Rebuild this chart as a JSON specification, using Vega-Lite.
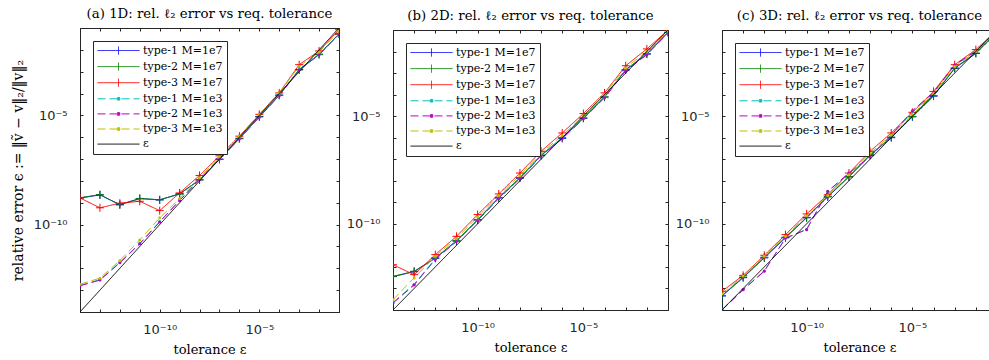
{
  "$schema": "https://vega.github.io/schema/vega-lite/v6.json",
  "background": "white",
  "padding": {"left": 10, "top": 6, "right": 0, "bottom": 0},
  "config": {
    "view": {"stroke": "#262626", "strokeWidth": 1},
    "axis": {"grid": false, "labelFont": "DejaVu Sans", "labelFontSize": 13, "labelColor": "#262626", "domainColor": "#262626", "tickColor": "#262626", "tickSize": -3, "titleFont": "DejaVu Serif", "titleFontSize": 13, "titleFontWeight": "normal", "titleColor": "#000000"},
    "title": {"font": "DejaVu Serif", "fontSize": 13.3, "fontWeight": "normal", "anchor": "middle", "offset": 7, "color": "#000000"},
    "legend": {"labelFont": "DejaVu Serif", "labelFontSize": 11, "labelColor": "#000000", "padding": 4, "rowPadding": 3.1, "strokeColor": "#262626", "fillColor": "white", "cornerRadius": 0, "symbolSize": 100, "symbolOffset": 16, "labelOffset": 19, "symbolStrokeWidth": 1, "orient": "top-left", "offset": 13, "title": null}
  },
  "datasets": {
    "runs": [
      {"p":"a","s":"type-1 M=1e7","t":1e-14,"e":1.66e-9},{"p":"a","s":"type-1 M=1e7","t":1e-13,"e":2.29e-9},{"p":"a","s":"type-1 M=1e7","t":1e-12,"e":8.32e-10},{"p":"a","s":"type-1 M=1e7","t":1e-11,"e":1.55e-9},{"p":"a","s":"type-1 M=1e7","t":1e-10,"e":1.35e-9},{"p":"a","s":"type-1 M=1e7","t":1e-9,"e":2.57e-9},{"p":"a","s":"type-1 M=1e7","t":1e-8,"e":1.12e-8},{"p":"a","s":"type-1 M=1e7","t":1e-7,"e":1.0e-7},{"p":"a","s":"type-1 M=1e7","t":1e-6,"e":8.91e-7},{"p":"a","s":"type-1 M=1e7","t":1e-5,"e":8.91e-6},{"p":"a","s":"type-1 M=1e7","t":1e-4,"e":8.51e-5},{"p":"a","s":"type-1 M=1e7","t":1e-3,"e":1.26e-3},{"p":"a","s":"type-1 M=1e7","t":1e-2,"e":6.31e-3},{"p":"a","s":"type-1 M=1e7","t":1e-1,"e":5.37e-2},
      {"p":"a","s":"type-2 M=1e7","t":1e-14,"e":1.70e-9},{"p":"a","s":"type-2 M=1e7","t":1e-13,"e":2.34e-9},{"p":"a","s":"type-2 M=1e7","t":1e-12,"e":7.94e-10},{"p":"a","s":"type-2 M=1e7","t":1e-11,"e":1.58e-9},{"p":"a","s":"type-2 M=1e7","t":1e-10,"e":1.38e-9},{"p":"a","s":"type-2 M=1e7","t":1e-9,"e":2.51e-9},{"p":"a","s":"type-2 M=1e7","t":1e-8,"e":1.12e-8},{"p":"a","s":"type-2 M=1e7","t":1e-7,"e":9.55e-8},{"p":"a","s":"type-2 M=1e7","t":1e-6,"e":8.51e-7},{"p":"a","s":"type-2 M=1e7","t":1e-5,"e":8.51e-6},{"p":"a","s":"type-2 M=1e7","t":1e-4,"e":8.32e-5},{"p":"a","s":"type-2 M=1e7","t":1e-3,"e":1.20e-3},{"p":"a","s":"type-2 M=1e7","t":1e-2,"e":6.03e-3},{"p":"a","s":"type-2 M=1e7","t":1e-1,"e":5.25e-2},
      {"p":"a","s":"type-3 M=1e7","t":1e-14,"e":1.66e-9},{"p":"a","s":"type-3 M=1e7","t":1e-13,"e":5.89e-10},{"p":"a","s":"type-3 M=1e7","t":1e-12,"e":9.55e-10},{"p":"a","s":"type-3 M=1e7","t":1e-11,"e":1.17e-9},{"p":"a","s":"type-3 M=1e7","t":1e-10,"e":4.37e-10},{"p":"a","s":"type-3 M=1e7","t":1e-9,"e":2.82e-9},{"p":"a","s":"type-3 M=1e7","t":1e-8,"e":1.78e-8},{"p":"a","s":"type-3 M=1e7","t":1e-7,"e":1.41e-7},{"p":"a","s":"type-3 M=1e7","t":1e-6,"e":1.12e-6},{"p":"a","s":"type-3 M=1e7","t":1e-5,"e":1.12e-5},{"p":"a","s":"type-3 M=1e7","t":1e-4,"e":1.07e-4},{"p":"a","s":"type-3 M=1e7","t":1e-3,"e":2.09e-3},{"p":"a","s":"type-3 M=1e7","t":1e-2,"e":8.91e-3},{"p":"a","s":"type-3 M=1e7","t":1e-1,"e":8.32e-2},
      {"p":"a","s":"type-1 M=1e3","t":1e-14,"e":1.66e-13},{"p":"a","s":"type-1 M=1e3","t":1e-13,"e":3.02e-13},{"p":"a","s":"type-1 M=1e3","t":1e-12,"e":1.86e-12},{"p":"a","s":"type-1 M=1e3","t":1e-11,"e":1.38e-11},{"p":"a","s":"type-1 M=1e3","t":1e-10,"e":1.38e-10},{"p":"a","s":"type-1 M=1e3","t":1e-9,"e":1.32e-9},{"p":"a","s":"type-1 M=1e3","t":1e-8,"e":1.20e-8},{"p":"a","s":"type-1 M=1e3","t":1e-7,"e":1.07e-7},{"p":"a","s":"type-1 M=1e3","t":1e-6,"e":8.71e-7},{"p":"a","s":"type-1 M=1e3","t":1e-5,"e":8.71e-6},{"p":"a","s":"type-1 M=1e3","t":1e-4,"e":8.32e-5},{"p":"a","s":"type-1 M=1e3","t":1e-3,"e":1.26e-3},{"p":"a","s":"type-1 M=1e3","t":1e-2,"e":6.31e-3},{"p":"a","s":"type-1 M=1e3","t":1e-1,"e":5.25e-2},
      {"p":"a","s":"type-2 M=1e3","t":1e-14,"e":1.58e-13},{"p":"a","s":"type-2 M=1e3","t":1e-13,"e":2.88e-13},{"p":"a","s":"type-2 M=1e3","t":1e-12,"e":1.78e-12},{"p":"a","s":"type-2 M=1e3","t":1e-11,"e":1.32e-11},{"p":"a","s":"type-2 M=1e3","t":1e-10,"e":1.32e-10},{"p":"a","s":"type-2 M=1e3","t":1e-9,"e":1.26e-9},{"p":"a","s":"type-2 M=1e3","t":1e-8,"e":1.15e-8},{"p":"a","s":"type-2 M=1e3","t":1e-7,"e":1.02e-7},{"p":"a","s":"type-2 M=1e3","t":1e-6,"e":8.32e-7},{"p":"a","s":"type-2 M=1e3","t":1e-5,"e":8.32e-6},{"p":"a","s":"type-2 M=1e3","t":1e-4,"e":7.94e-5},{"p":"a","s":"type-2 M=1e3","t":1e-3,"e":1.20e-3},{"p":"a","s":"type-2 M=1e3","t":1e-2,"e":6.03e-3},{"p":"a","s":"type-2 M=1e3","t":1e-1,"e":5.01e-2},
      {"p":"a","s":"type-3 M=1e3","t":1e-14,"e":1.86e-13},{"p":"a","s":"type-3 M=1e3","t":1e-13,"e":3.55e-13},{"p":"a","s":"type-3 M=1e3","t":1e-12,"e":2.24e-12},{"p":"a","s":"type-3 M=1e3","t":1e-11,"e":2.00e-11},{"p":"a","s":"type-3 M=1e3","t":1e-10,"e":2.04e-10},{"p":"a","s":"type-3 M=1e3","t":1e-9,"e":1.58e-9},{"p":"a","s":"type-3 M=1e3","t":1e-8,"e":1.41e-8},{"p":"a","s":"type-3 M=1e3","t":1e-7,"e":1.26e-7},{"p":"a","s":"type-3 M=1e3","t":1e-6,"e":1.10e-6},{"p":"a","s":"type-3 M=1e3","t":1e-5,"e":1.10e-5},{"p":"a","s":"type-3 M=1e3","t":1e-4,"e":1.07e-4},{"p":"a","s":"type-3 M=1e3","t":1e-3,"e":1.78e-3},{"p":"a","s":"type-3 M=1e3","t":1e-2,"e":7.94e-3},{"p":"a","s":"type-3 M=1e3","t":1e-1,"e":7.08e-2},
      {"p":"a","s":"ε","t":1e-14,"e":1e-14},{"p":"a","s":"ε","t":1e-1,"e":1e-1},

      {"p":"b","s":"type-1 M=1e7","t":1e-14,"e":3.55e-13},{"p":"b","s":"type-1 M=1e7","t":1e-13,"e":6.03e-13},{"p":"b","s":"type-1 M=1e7","t":1e-12,"e":2.51e-12},{"p":"b","s":"type-1 M=1e7","t":1e-11,"e":1.58e-11},{"p":"b","s":"type-1 M=1e7","t":1e-10,"e":1.51e-10},{"p":"b","s":"type-1 M=1e7","t":1e-9,"e":1.58e-9},{"p":"b","s":"type-1 M=1e7","t":1e-8,"e":1.32e-8},{"p":"b","s":"type-1 M=1e7","t":1e-7,"e":1.48e-7},{"p":"b","s":"type-1 M=1e7","t":1e-6,"e":9.33e-7},{"p":"b","s":"type-1 M=1e7","t":1e-5,"e":7.94e-6},{"p":"b","s":"type-1 M=1e7","t":1e-4,"e":7.59e-5},{"p":"b","s":"type-1 M=1e7","t":1e-3,"e":1.38e-3},{"p":"b","s":"type-1 M=1e7","t":1e-2,"e":7.59e-3},{"p":"b","s":"type-1 M=1e7","t":1e-1,"e":7.59e-2},
      {"p":"b","s":"type-2 M=1e7","t":1e-14,"e":3.63e-13},{"p":"b","s":"type-2 M=1e7","t":1e-13,"e":6.31e-13},{"p":"b","s":"type-2 M=1e7","t":1e-12,"e":2.63e-12},{"p":"b","s":"type-2 M=1e7","t":1e-11,"e":1.66e-11},{"p":"b","s":"type-2 M=1e7","t":1e-10,"e":1.58e-10},{"p":"b","s":"type-2 M=1e7","t":1e-9,"e":1.70e-9},{"p":"b","s":"type-2 M=1e7","t":1e-8,"e":1.41e-8},{"p":"b","s":"type-2 M=1e7","t":1e-7,"e":1.58e-7},{"p":"b","s":"type-2 M=1e7","t":1e-6,"e":1.0e-6},{"p":"b","s":"type-2 M=1e7","t":1e-5,"e":8.32e-6},{"p":"b","s":"type-2 M=1e7","t":1e-4,"e":7.94e-5},{"p":"b","s":"type-2 M=1e7","t":1e-3,"e":1.45e-3},{"p":"b","s":"type-2 M=1e7","t":1e-2,"e":7.94e-3},{"p":"b","s":"type-2 M=1e7","t":1e-1,"e":7.94e-2},
      {"p":"b","s":"type-3 M=1e7","t":1e-14,"e":1.26e-12},{"p":"b","s":"type-3 M=1e7","t":1e-13,"e":4.37e-13},{"p":"b","s":"type-3 M=1e7","t":1e-12,"e":3.72e-12},{"p":"b","s":"type-3 M=1e7","t":1e-11,"e":2.63e-11},{"p":"b","s":"type-3 M=1e7","t":1e-10,"e":2.69e-10},{"p":"b","s":"type-3 M=1e7","t":1e-9,"e":2.45e-9},{"p":"b","s":"type-3 M=1e7","t":1e-8,"e":2.29e-8},{"p":"b","s":"type-3 M=1e7","t":1e-7,"e":2.34e-7},{"p":"b","s":"type-3 M=1e7","t":1e-6,"e":1.66e-6},{"p":"b","s":"type-3 M=1e7","t":1e-5,"e":1.32e-5},{"p":"b","s":"type-3 M=1e7","t":1e-4,"e":1.20e-4},{"p":"b","s":"type-3 M=1e7","t":1e-3,"e":2.19e-3},{"p":"b","s":"type-3 M=1e7","t":1e-2,"e":1.32e-2},{"p":"b","s":"type-3 M=1e7","t":1e-1,"e":1.0e-1},
      {"p":"b","s":"type-1 M=1e3","t":1e-14,"e":2.24e-14},{"p":"b","s":"type-1 M=1e3","t":1e-13,"e":1.58e-13},{"p":"b","s":"type-1 M=1e3","t":1e-12,"e":2.40e-12},{"p":"b","s":"type-1 M=1e3","t":1e-11,"e":1.58e-11},{"p":"b","s":"type-1 M=1e3","t":1e-10,"e":1.51e-10},{"p":"b","s":"type-1 M=1e3","t":1e-9,"e":1.58e-9},{"p":"b","s":"type-1 M=1e3","t":1e-8,"e":1.35e-8},{"p":"b","s":"type-1 M=1e3","t":1e-7,"e":1.51e-7},{"p":"b","s":"type-1 M=1e3","t":1e-6,"e":9.55e-7},{"p":"b","s":"type-1 M=1e3","t":1e-5,"e":7.94e-6},{"p":"b","s":"type-1 M=1e3","t":1e-4,"e":7.59e-5},{"p":"b","s":"type-1 M=1e3","t":1e-3,"e":1.38e-3},{"p":"b","s":"type-1 M=1e3","t":1e-2,"e":7.59e-3},{"p":"b","s":"type-1 M=1e3","t":1e-1,"e":7.59e-2},
      {"p":"b","s":"type-2 M=1e3","t":1e-14,"e":2.09e-14},{"p":"b","s":"type-2 M=1e3","t":1e-13,"e":1.45e-13},{"p":"b","s":"type-2 M=1e3","t":1e-12,"e":2.24e-12},{"p":"b","s":"type-2 M=1e3","t":1e-11,"e":1.51e-11},{"p":"b","s":"type-2 M=1e3","t":1e-10,"e":1.41e-10},{"p":"b","s":"type-2 M=1e3","t":1e-9,"e":1.51e-9},{"p":"b","s":"type-2 M=1e3","t":1e-8,"e":1.26e-8},{"p":"b","s":"type-2 M=1e3","t":1e-7,"e":1.41e-7},{"p":"b","s":"type-2 M=1e3","t":1e-6,"e":8.91e-7},{"p":"b","s":"type-2 M=1e3","t":1e-5,"e":7.59e-6},{"p":"b","s":"type-2 M=1e3","t":1e-4,"e":7.08e-5},{"p":"b","s":"type-2 M=1e3","t":1e-3,"e":1.26e-3},{"p":"b","s":"type-2 M=1e3","t":1e-2,"e":7.08e-3},{"p":"b","s":"type-2 M=1e3","t":1e-1,"e":7.08e-2},
      {"p":"b","s":"type-3 M=1e3","t":1e-14,"e":3.02e-14},{"p":"b","s":"type-3 M=1e3","t":1e-13,"e":3.09e-13},{"p":"b","s":"type-3 M=1e3","t":1e-12,"e":3.16e-12},{"p":"b","s":"type-3 M=1e3","t":1e-11,"e":2.09e-11},{"p":"b","s":"type-3 M=1e3","t":1e-10,"e":2.09e-10},{"p":"b","s":"type-3 M=1e3","t":1e-9,"e":2.09e-9},{"p":"b","s":"type-3 M=1e3","t":1e-8,"e":1.78e-8},{"p":"b","s":"type-3 M=1e3","t":1e-7,"e":1.91e-7},{"p":"b","s":"type-3 M=1e3","t":1e-6,"e":1.26e-6},{"p":"b","s":"type-3 M=1e3","t":1e-5,"e":1.05e-5},{"p":"b","s":"type-3 M=1e3","t":1e-4,"e":1.0e-4},{"p":"b","s":"type-3 M=1e3","t":1e-3,"e":1.78e-3},{"p":"b","s":"type-3 M=1e3","t":1e-2,"e":1.0e-2},{"p":"b","s":"type-3 M=1e3","t":1e-1,"e":8.91e-2},
      {"p":"b","s":"ε","t":1e-14,"e":1e-14},{"p":"b","s":"ε","t":1e-1,"e":1e-1},

      {"p":"c","s":"type-1 M=1e7","t":1e-14,"e":4.47e-14},{"p":"c","s":"type-1 M=1e7","t":1e-13,"e":3.16e-13},{"p":"c","s":"type-1 M=1e7","t":1e-12,"e":2.63e-12},{"p":"c","s":"type-1 M=1e7","t":1e-11,"e":2.24e-11},{"p":"c","s":"type-1 M=1e7","t":1e-10,"e":1.91e-10},{"p":"c","s":"type-1 M=1e7","t":1e-9,"e":1.78e-9},{"p":"c","s":"type-1 M=1e7","t":1e-8,"e":1.51e-8},{"p":"c","s":"type-1 M=1e7","t":1e-7,"e":1.51e-7},{"p":"c","s":"type-1 M=1e7","t":1e-6,"e":1.0e-6},{"p":"c","s":"type-1 M=1e7","t":1e-5,"e":9.33e-6},{"p":"c","s":"type-1 M=1e7","t":1e-4,"e":8.51e-5},{"p":"c","s":"type-1 M=1e7","t":1e-3,"e":1.66e-3},{"p":"c","s":"type-1 M=1e7","t":1e-2,"e":8.13e-3},{"p":"c","s":"type-1 M=1e7","t":1e-1,"e":7.59e-2},
      {"p":"c","s":"type-2 M=1e7","t":1e-14,"e":4.68e-14},{"p":"c","s":"type-2 M=1e7","t":1e-13,"e":3.39e-13},{"p":"c","s":"type-2 M=1e7","t":1e-12,"e":2.82e-12},{"p":"c","s":"type-2 M=1e7","t":1e-11,"e":2.40e-11},{"p":"c","s":"type-2 M=1e7","t":1e-10,"e":2.0e-10},{"p":"c","s":"type-2 M=1e7","t":1e-9,"e":1.91e-9},{"p":"c","s":"type-2 M=1e7","t":1e-8,"e":1.58e-8},{"p":"c","s":"type-2 M=1e7","t":1e-7,"e":1.62e-7},{"p":"c","s":"type-2 M=1e7","t":1e-6,"e":1.07e-6},{"p":"c","s":"type-2 M=1e7","t":1e-5,"e":9.77e-6},{"p":"c","s":"type-2 M=1e7","t":1e-4,"e":8.91e-5},{"p":"c","s":"type-2 M=1e7","t":1e-3,"e":1.74e-3},{"p":"c","s":"type-2 M=1e7","t":1e-2,"e":8.51e-3},{"p":"c","s":"type-2 M=1e7","t":1e-1,"e":7.94e-2},
      {"p":"c","s":"type-3 M=1e7","t":1e-14,"e":7.41e-14},{"p":"c","s":"type-3 M=1e7","t":1e-13,"e":4.07e-13},{"p":"c","s":"type-3 M=1e7","t":1e-12,"e":3.47e-12},{"p":"c","s":"type-3 M=1e7","t":1e-11,"e":3.16e-11},{"p":"c","s":"type-3 M=1e7","t":1e-10,"e":2.88e-10},{"p":"c","s":"type-3 M=1e7","t":1e-9,"e":2.24e-9},{"p":"c","s":"type-3 M=1e7","t":1e-8,"e":2.29e-8},{"p":"c","s":"type-3 M=1e7","t":1e-7,"e":2.34e-7},{"p":"c","s":"type-3 M=1e7","t":1e-6,"e":1.66e-6},{"p":"c","s":"type-3 M=1e7","t":1e-5,"e":1.51e-5},{"p":"c","s":"type-3 M=1e7","t":1e-4,"e":1.41e-4},{"p":"c","s":"type-3 M=1e7","t":1e-3,"e":2.45e-3},{"p":"c","s":"type-3 M=1e7","t":1e-2,"e":1.23e-2},{"p":"c","s":"type-3 M=1e7","t":1e-1,"e":1.0e-1},
      {"p":"c","s":"type-1 M=1e3","t":1e-14,"e":1.05e-14},{"p":"c","s":"type-1 M=1e3","t":1e-13,"e":8.91e-14},{"p":"c","s":"type-1 M=1e3","t":1e-12,"e":6.61e-13},{"p":"c","s":"type-1 M=1e3","t":1e-11,"e":2.09e-11},{"p":"c","s":"type-1 M=1e3","t":1e-10,"e":5.62e-11},{"p":"c","s":"type-1 M=1e3","t":1e-9,"e":3.16e-9},{"p":"c","s":"type-1 M=1e3","t":1e-8,"e":2.19e-8},{"p":"c","s":"type-1 M=1e3","t":1e-7,"e":1.26e-7},{"p":"c","s":"type-1 M=1e3","t":1e-6,"e":1.26e-6},{"p":"c","s":"type-1 M=1e3","t":1e-5,"e":1.58e-5},{"p":"c","s":"type-1 M=1e3","t":1e-4,"e":1.12e-4},{"p":"c","s":"type-1 M=1e3","t":1e-3,"e":2.24e-3},{"p":"c","s":"type-1 M=1e3","t":1e-2,"e":1.0e-2},{"p":"c","s":"type-1 M=1e3","t":1e-1,"e":8.91e-2},
      {"p":"c","s":"type-2 M=1e3","t":1e-14,"e":1.0e-14},{"p":"c","s":"type-2 M=1e3","t":1e-13,"e":8.71e-14},{"p":"c","s":"type-2 M=1e3","t":1e-12,"e":6.31e-13},{"p":"c","s":"type-2 M=1e3","t":1e-11,"e":2.19e-11},{"p":"c","s":"type-2 M=1e3","t":1e-10,"e":5.37e-11},{"p":"c","s":"type-2 M=1e3","t":1e-9,"e":3.24e-9},{"p":"c","s":"type-2 M=1e3","t":1e-8,"e":2.29e-8},{"p":"c","s":"type-2 M=1e3","t":1e-7,"e":1.32e-7},{"p":"c","s":"type-2 M=1e3","t":1e-6,"e":1.32e-6},{"p":"c","s":"type-2 M=1e3","t":1e-5,"e":1.78e-5},{"p":"c","s":"type-2 M=1e3","t":1e-4,"e":1.26e-4},{"p":"c","s":"type-2 M=1e3","t":1e-3,"e":2.40e-3},{"p":"c","s":"type-2 M=1e3","t":1e-2,"e":1.05e-2},{"p":"c","s":"type-2 M=1e3","t":1e-1,"e":9.55e-2},
      {"p":"c","s":"type-3 M=1e3","t":1e-14,"e":5.62e-14},{"p":"c","s":"type-3 M=1e3","t":1e-13,"e":3.80e-13},{"p":"c","s":"type-3 M=1e3","t":1e-12,"e":3.16e-12},{"p":"c","s":"type-3 M=1e3","t":1e-11,"e":2.69e-11},{"p":"c","s":"type-3 M=1e3","t":1e-10,"e":2.40e-10},{"p":"c","s":"type-3 M=1e3","t":1e-9,"e":2.09e-9},{"p":"c","s":"type-3 M=1e3","t":1e-8,"e":1.91e-8},{"p":"c","s":"type-3 M=1e3","t":1e-7,"e":1.91e-7},{"p":"c","s":"type-3 M=1e3","t":1e-6,"e":1.32e-6},{"p":"c","s":"type-3 M=1e3","t":1e-5,"e":1.20e-5},{"p":"c","s":"type-3 M=1e3","t":1e-4,"e":1.12e-4},{"p":"c","s":"type-3 M=1e3","t":1e-3,"e":2.0e-3},{"p":"c","s":"type-3 M=1e3","t":1e-2,"e":1.0e-2},{"p":"c","s":"type-3 M=1e3","t":1e-1,"e":8.91e-2},
      {"p":"c","s":"ε","t":1e-14,"e":1e-14},{"p":"c","s":"ε","t":1e-1,"e":1e-1}
    ]
  },
  "bounds": "flush",
  "center": true,
  "spacing": 54,
  "resolve": {"scale": {"color": "independent", "strokeDash": "independent", "x": "independent", "y": "independent"}, "legend": {"color": "independent", "strokeDash": "independent"}},
  "hconcat": [
    {
      "width": 259, "height": 284,
      "title": "(a) 1D: rel. ℓ₂ error vs req. tolerance",
      "data": {"name": "runs"},
      "transform": [{"filter": "datum.p == 'a'"}],
      "resolve": {"axis": {"x": "independent", "y": "independent"}},
      "layer": [
        {"transform": [{"filter": "datum.s != 'ε'"}],
         "mark": {"type": "line", "strokeWidth": 1, "clip": true},
         "encoding": {
           "x": {"field": "t", "type": "quantitative", "scale": {"type": "log", "domain": [1e-14, 0.1], "nice": false}, "axis": {"orient": "bottom", "title": "tolerance ε", "values": [1e-14,1e-13,1e-12,1e-11,1e-10,1e-9,1e-8,1e-7,1e-6,1e-5,1e-4,1e-3,1e-2,1e-1], "labelExpr": "abs(log(datum.value)/LN10 + 10) < 0.01 ? '10⁻¹⁰' : (abs(log(datum.value)/LN10 + 5) < 0.01 ? '10⁻⁵' : '')", "labelPadding": 14, "titlePadding": 7}},
           "y": {"field": "e", "type": "quantitative", "scale": {"type": "log", "domain": [1e-14, 0.1], "nice": false}, "axis": {"orient": "left", "title": "relative error ϵ := ‖ṽ − v‖₂/‖v‖₂", "titleFontSize": 14, "values": [1e-14,1e-13,1e-12,1e-11,1e-10,1e-9,1e-8,1e-7,1e-6,1e-5,1e-4,1e-3,1e-2,1e-1], "labelExpr": "abs(log(datum.value)/LN10 + 10) < 0.01 ? '10⁻¹⁰' : (abs(log(datum.value)/LN10 + 5) < 0.01 ? '10⁻⁵' : '')", "labelPadding": 16, "titlePadding": 8}},
           "color": {"field": "s", "type": "nominal", "scale": {"domain": ["type-1 M=1e7","type-2 M=1e7","type-3 M=1e7","type-1 M=1e3","type-2 M=1e3","type-3 M=1e3","ε"], "range": ["#0000ff","#008000","#ff0000","#00bfbf","#bf00bf","#bfbf00","#000000"]}, "legend": {"encode": {"symbols": {"update": {"shape": {"signal": "indexof(datum.value,'1e7')>=0 ? 'M-4.2,0H4.2M0,-0.8V0.8' : (indexof(datum.value,'1e3')>=0 ? 'M-4.2,0H4.2M-0.25,-0.25H0.25V0.25H-0.25Z' : 'M-4.2,0H4.2')"}}}}}},
           "strokeDash": {"field": "s", "type": "nominal", "scale": {"domain": ["type-1 M=1e7","type-2 M=1e7","type-3 M=1e7","type-1 M=1e3","type-2 M=1e3","type-3 M=1e3","ε"], "range": [[1,0],[1,0],[1,0],[8,4],[8,4],[8,4],[1,0]]}}
         }},
        {"transform": [{"filter": "indexof(datum.s, '1e7') >= 0"}],
         "mark": {"type": "point", "shape": "M-1,0H1M0,-1V1", "size": 64, "filled": false, "strokeWidth": 1, "opacity": 1, "clip": true},
         "encoding": {
           "x": {"field": "t", "type": "quantitative", "axis": null},
           "y": {"field": "e", "type": "quantitative", "axis": null},
           "color": {"field": "s", "type": "nominal"}
         }},
        {"transform": [{"filter": "indexof(datum.s, '1e3') >= 0"}],
         "mark": {"type": "circle", "size": 9, "opacity": 1, "clip": true},
         "encoding": {
           "x": {"field": "t", "type": "quantitative", "axis": null},
           "y": {"field": "e", "type": "quantitative", "axis": null},
           "color": {"field": "s", "type": "nominal"}
         }},
        {"transform": [{"filter": "datum.s == 'ε'"}],
         "mark": {"type": "line", "strokeWidth": 1, "clip": true},
         "encoding": {
           "x": {"field": "t", "type": "quantitative", "axis": {"orient": "top", "labels": false, "title": null, "domain": false, "values": [1e-14,1e-13,1e-12,1e-11,1e-10,1e-9,1e-8,1e-7,1e-6,1e-5,1e-4,1e-3,1e-2,1e-1]}},
           "y": {"field": "e", "type": "quantitative", "axis": {"orient": "right", "labels": false, "title": null, "domain": false, "values": [1e-14,1e-13,1e-12,1e-11,1e-10,1e-9,1e-8,1e-7,1e-6,1e-5,1e-4,1e-3,1e-2,1e-1]}},
           "color": {"field": "s", "type": "nominal"},
           "strokeDash": {"field": "s", "type": "nominal"}
         }}
      ]
    },
    {
      "width": 275, "height": 280,
      "title": "(b) 2D: rel. ℓ₂ error vs req. tolerance",
      "data": {"name": "runs"},
      "transform": [{"filter": "datum.p == 'b'"}],
      "resolve": {"axis": {"x": "independent", "y": "independent"}},
      "layer": [
        {"transform": [{"filter": "datum.s != 'ε'"}],
         "mark": {"type": "line", "strokeWidth": 1, "clip": true},
         "encoding": {
           "x": {"field": "t", "type": "quantitative", "scale": {"type": "log", "domain": [1e-14, 0.1], "nice": false}, "axis": {"orient": "bottom", "title": "tolerance ε", "values": [1e-14,1e-13,1e-12,1e-11,1e-10,1e-9,1e-8,1e-7,1e-6,1e-5,1e-4,1e-3,1e-2,1e-1], "labelExpr": "abs(log(datum.value)/LN10 + 10) < 0.01 ? '10⁻¹⁰' : (abs(log(datum.value)/LN10 + 5) < 0.01 ? '10⁻⁵' : '')", "labelPadding": 14, "titlePadding": 7}},
           "y": {"field": "e", "type": "quantitative", "scale": {"type": "log", "domain": [1e-14, 0.1], "nice": false}, "axis": {"orient": "left", "title": null, "values": [1e-14,1e-13,1e-12,1e-11,1e-10,1e-9,1e-8,1e-7,1e-6,1e-5,1e-4,1e-3,1e-2,1e-1], "labelExpr": "abs(log(datum.value)/LN10 + 10) < 0.01 ? '10⁻¹⁰' : (abs(log(datum.value)/LN10 + 5) < 0.01 ? '10⁻⁵' : '')", "labelPadding": 16}},
           "color": {"field": "s", "type": "nominal", "scale": {"domain": ["type-1 M=1e7","type-2 M=1e7","type-3 M=1e7","type-1 M=1e3","type-2 M=1e3","type-3 M=1e3","ε"], "range": ["#0000ff","#008000","#ff0000","#00bfbf","#bf00bf","#bfbf00","#000000"]}, "legend": {"encode": {"symbols": {"update": {"shape": {"signal": "indexof(datum.value,'1e7')>=0 ? 'M-4.2,0H4.2M0,-0.8V0.8' : (indexof(datum.value,'1e3')>=0 ? 'M-4.2,0H4.2M-0.25,-0.25H0.25V0.25H-0.25Z' : 'M-4.2,0H4.2')"}}}}}},
           "strokeDash": {"field": "s", "type": "nominal", "scale": {"domain": ["type-1 M=1e7","type-2 M=1e7","type-3 M=1e7","type-1 M=1e3","type-2 M=1e3","type-3 M=1e3","ε"], "range": [[1,0],[1,0],[1,0],[8,4],[8,4],[8,4],[1,0]]}}
         }},
        {"transform": [{"filter": "indexof(datum.s, '1e7') >= 0"}],
         "mark": {"type": "point", "shape": "M-1,0H1M0,-1V1", "size": 64, "filled": false, "strokeWidth": 1, "opacity": 1, "clip": true},
         "encoding": {
           "x": {"field": "t", "type": "quantitative", "axis": null},
           "y": {"field": "e", "type": "quantitative", "axis": null},
           "color": {"field": "s", "type": "nominal"}
         }},
        {"transform": [{"filter": "indexof(datum.s, '1e3') >= 0"}],
         "mark": {"type": "circle", "size": 9, "opacity": 1, "clip": true},
         "encoding": {
           "x": {"field": "t", "type": "quantitative", "axis": null},
           "y": {"field": "e", "type": "quantitative", "axis": null},
           "color": {"field": "s", "type": "nominal"}
         }},
        {"transform": [{"filter": "datum.s == 'ε'"}],
         "mark": {"type": "line", "strokeWidth": 1, "clip": true},
         "encoding": {
           "x": {"field": "t", "type": "quantitative", "axis": {"orient": "top", "labels": false, "title": null, "domain": false, "values": [1e-14,1e-13,1e-12,1e-11,1e-10,1e-9,1e-8,1e-7,1e-6,1e-5,1e-4,1e-3,1e-2,1e-1]}},
           "y": {"field": "e", "type": "quantitative", "axis": {"orient": "right", "labels": false, "title": null, "domain": false, "values": [1e-14,1e-13,1e-12,1e-11,1e-10,1e-9,1e-8,1e-7,1e-6,1e-5,1e-4,1e-3,1e-2,1e-1]}},
           "color": {"field": "s", "type": "nominal"},
           "strokeDash": {"field": "s", "type": "nominal"}
         }}
      ]
    },
    {
      "width": 275, "height": 280,
      "title": "(c) 3D: rel. ℓ₂ error vs req. tolerance",
      "data": {"name": "runs"},
      "transform": [{"filter": "datum.p == 'c'"}],
      "resolve": {"axis": {"x": "independent", "y": "independent"}},
      "layer": [
        {"transform": [{"filter": "datum.s != 'ε'"}],
         "mark": {"type": "line", "strokeWidth": 1, "clip": true},
         "encoding": {
           "x": {"field": "t", "type": "quantitative", "scale": {"type": "log", "domain": [1e-14, 0.1], "nice": false}, "axis": {"orient": "bottom", "title": "tolerance ε", "values": [1e-14,1e-13,1e-12,1e-11,1e-10,1e-9,1e-8,1e-7,1e-6,1e-5,1e-4,1e-3,1e-2,1e-1], "labelExpr": "abs(log(datum.value)/LN10 + 10) < 0.01 ? '10⁻¹⁰' : (abs(log(datum.value)/LN10 + 5) < 0.01 ? '10⁻⁵' : '')", "labelPadding": 14, "titlePadding": 7}},
           "y": {"field": "e", "type": "quantitative", "scale": {"type": "log", "domain": [1e-14, 0.1], "nice": false}, "axis": {"orient": "left", "title": null, "values": [1e-14,1e-13,1e-12,1e-11,1e-10,1e-9,1e-8,1e-7,1e-6,1e-5,1e-4,1e-3,1e-2,1e-1], "labelExpr": "abs(log(datum.value)/LN10 + 10) < 0.01 ? '10⁻¹⁰' : (abs(log(datum.value)/LN10 + 5) < 0.01 ? '10⁻⁵' : '')", "labelPadding": 16}},
           "color": {"field": "s", "type": "nominal", "scale": {"domain": ["type-1 M=1e7","type-2 M=1e7","type-3 M=1e7","type-1 M=1e3","type-2 M=1e3","type-3 M=1e3","ε"], "range": ["#0000ff","#008000","#ff0000","#00bfbf","#bf00bf","#bfbf00","#000000"]}, "legend": {"encode": {"symbols": {"update": {"shape": {"signal": "indexof(datum.value,'1e7')>=0 ? 'M-4.2,0H4.2M0,-0.8V0.8' : (indexof(datum.value,'1e3')>=0 ? 'M-4.2,0H4.2M-0.25,-0.25H0.25V0.25H-0.25Z' : 'M-4.2,0H4.2')"}}}}}},
           "strokeDash": {"field": "s", "type": "nominal", "scale": {"domain": ["type-1 M=1e7","type-2 M=1e7","type-3 M=1e7","type-1 M=1e3","type-2 M=1e3","type-3 M=1e3","ε"], "range": [[1,0],[1,0],[1,0],[8,4],[8,4],[8,4],[1,0]]}}
         }},
        {"transform": [{"filter": "indexof(datum.s, '1e7') >= 0"}],
         "mark": {"type": "point", "shape": "M-1,0H1M0,-1V1", "size": 64, "filled": false, "strokeWidth": 1, "opacity": 1, "clip": true},
         "encoding": {
           "x": {"field": "t", "type": "quantitative", "axis": null},
           "y": {"field": "e", "type": "quantitative", "axis": null},
           "color": {"field": "s", "type": "nominal"}
         }},
        {"transform": [{"filter": "indexof(datum.s, '1e3') >= 0"}],
         "mark": {"type": "circle", "size": 9, "opacity": 1, "clip": true},
         "encoding": {
           "x": {"field": "t", "type": "quantitative", "axis": null},
           "y": {"field": "e", "type": "quantitative", "axis": null},
           "color": {"field": "s", "type": "nominal"}
         }},
        {"transform": [{"filter": "datum.s == 'ε'"}],
         "mark": {"type": "line", "strokeWidth": 1, "clip": true},
         "encoding": {
           "x": {"field": "t", "type": "quantitative", "axis": {"orient": "top", "labels": false, "title": null, "domain": false, "values": [1e-14,1e-13,1e-12,1e-11,1e-10,1e-9,1e-8,1e-7,1e-6,1e-5,1e-4,1e-3,1e-2,1e-1]}},
           "y": {"field": "e", "type": "quantitative", "axis": {"orient": "right", "labels": false, "title": null, "domain": false, "values": [1e-14,1e-13,1e-12,1e-11,1e-10,1e-9,1e-8,1e-7,1e-6,1e-5,1e-4,1e-3,1e-2,1e-1]}},
           "color": {"field": "s", "type": "nominal"},
           "strokeDash": {"field": "s", "type": "nominal"}
         }}
      ]
    }
  ]
}
